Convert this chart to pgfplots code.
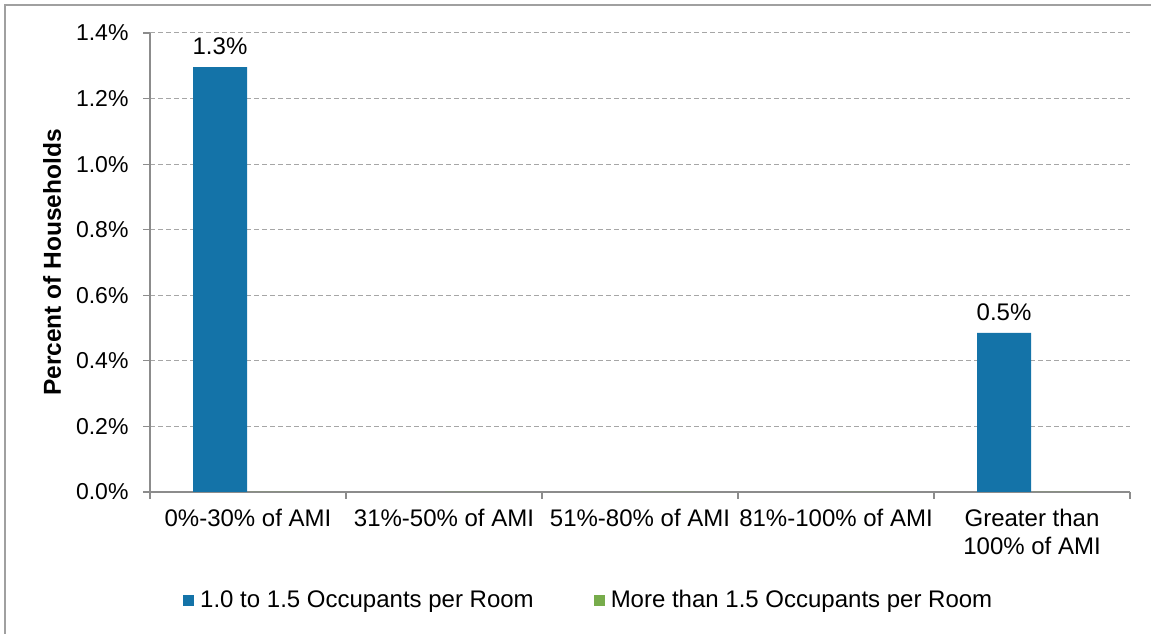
\documentclass[border=0pt]{standalone}
\usepackage{fontspec}
\setmainfont{Liberation Sans}
\usepackage{pgfplots}
\pgfplotsset{compat=1.18}
\definecolor{barblue}{HTML}{1473A8}
\definecolor{bargreen}{HTML}{77AC4B}
\definecolor{axgray}{HTML}{8C8C8C}
\definecolor{gridgray}{HTML}{A6A6A6}
\definecolor{framegray}{HTML}{A0A0A0}
\begin{document}
\begin{tikzpicture}[x=1bp,y=1bp]
\useasboundingbox (0,0) rectangle (1151,634);
\draw[framegray, line width=1.5bp] (5,-5) -- (5,629) -- (1160,629);
\begin{axis}[
  at={(150bp,142bp)}, anchor=south west,
  scale only axis, width=980bp, height=459bp,
  ymin=0, ymax=1.4, xmin=-0.5, xmax=4.5,
  ybar=2bp, bar width=54bp,
  axis x line*=bottom, axis y line*=left,
  axis line style={axgray, line width=1.2bp},
  tick align=outside, major tick length=7bp,
  tick style={axgray, line width=1.2bp},
  xtick={-0.5,0.5,1.5,2.5,3.5,4.5},
  x tick label as interval,
  xticklabels={0\%-30\% of AMI, 31\%-50\% of AMI, 51\%-80\% of AMI, 81\%-100\% of AMI, {Greater than\\100\% of AMI}},
  xticklabel style={align=center, font=\fontsize{24bp}{28bp}\selectfont, yshift=-7bp},
  ytick={0,0.2,0.4,0.6,0.8,1.0,1.2,1.4},
  /pgf/number format/assume math mode=true,
  yticklabel={\pgfmathprintnumber[fixed,fixed zerofill,precision=1]{\tick}\%},
  yticklabel style={font=\fontsize{23bp}{28bp}\selectfont, xshift=-11bp},
  ymajorgrids,
  grid style={gridgray, dash pattern=on 5bp off 3bp, line width=1bp},
  ylabel={Percent of Households},
  ylabel style={at={(axis description cs:-0.1,0.5)}, anchor=center, font=\bfseries\fontsize{24.5bp}{28bp}\selectfont},
  legend columns=2,
  legend style={at={(axis description cs:0.0337,-0.2353)}, anchor=west, draw=none, fill=none,
    inner sep=0pt, nodes={inner sep=0pt}, font=\fontsize{24bp}{28bp}\selectfont,
    /tikz/every odd column/.append style={column sep=6bp},
    /tikz/every even column/.append style={column sep=60bp}},
]
\addplot[fill=barblue, draw=none,
  legend image code/.code={\fill[barblue] (0bp,-5.5bp) rectangle (11bp,5.5bp);},
  nodes near coords={\pgfmathprintnumber[fixed,fixed zerofill,precision=1]{\pgfplotspointmeta}\%},
  point meta=y,
  nodes near coords style={font=\fontsize{24bp}{28bp}\selectfont, text=black, yshift=9bp}]
  coordinates {(0,1.296) (4,0.485)};
\addlegendentry{1.0 to 1.5 Occupants per Room}
\addplot[fill=bargreen, draw=none,
  legend image code/.code={\fill[bargreen] (0bp,-5.5bp) rectangle (11bp,5.5bp);}]
  coordinates {(0,0) (1,0) (2,0) (3,0) (4,0)};
\addlegendentry{More than 1.5 Occupants per Room}
\end{axis}
\end{tikzpicture}
\end{document}
